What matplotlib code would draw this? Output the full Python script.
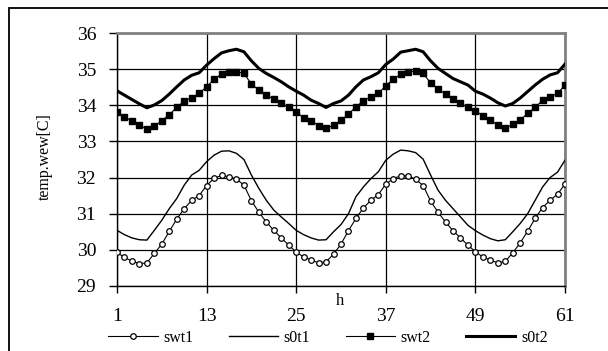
import matplotlib.pyplot as plt
from matplotlib.patches import Rectangle

plt.rcParams['font.family'] = ['Liberation Serif', 'DejaVu Serif']

# hour index
hours = list(range(1, 62))

swt1 = [29.93, 29.79, 29.69, 29.62, 29.64, 29.90, 30.16, 30.51, 30.85, 31.14,
        31.37, 31.50, 31.78, 31.98, 32.06, 32.02, 31.96, 31.79, 31.36, 31.04,
        30.77, 30.54, 30.33, 30.13, 29.94, 29.80, 29.72, 29.64, 29.67, 29.88,
        30.16, 30.53, 30.87, 31.16, 31.37, 31.53, 31.82, 31.97, 32.05, 32.05,
        31.95, 31.78, 31.35, 31.04, 30.77, 30.53, 30.33, 30.13, 29.95, 29.80,
        29.72, 29.64, 29.68, 29.92, 30.19, 30.52, 30.87, 31.17, 31.37, 31.54,
        31.82]
s0t1 = [30.54, 30.42, 30.33, 30.28, 30.27, 30.54, 30.82, 31.14, 31.42, 31.79,
        32.07, 32.20, 32.44, 32.62, 32.73, 32.74, 32.67, 32.50, 32.07, 31.70,
        31.37, 31.10, 30.91, 30.73, 30.54, 30.42, 30.33, 30.27, 30.28, 30.50,
        30.70, 31.00, 31.47, 31.74, 31.97, 32.16, 32.48, 32.65, 32.76, 32.74,
        32.69, 32.51, 32.07, 31.65, 31.37, 31.14, 30.91, 30.68, 30.53, 30.41,
        30.31, 30.25, 30.28, 30.50, 30.73, 31.00, 31.37, 31.74, 32.00, 32.15,
        32.48]
swt2 = [33.81, 33.67, 33.57, 33.45, 33.34, 33.43, 33.57, 33.74, 33.94, 34.12,
        34.21, 34.33, 34.51, 34.72, 34.86, 34.93, 34.93, 34.88, 34.59, 34.42,
        34.28, 34.17, 34.05, 33.94, 33.81, 33.66, 33.57, 33.44, 33.36, 33.45,
        33.58, 33.75, 33.96, 34.12, 34.24, 34.33, 34.54, 34.72, 34.86, 34.93,
        34.94, 34.88, 34.62, 34.45, 34.31, 34.17, 34.05, 33.94, 33.85, 33.71,
        33.59, 33.45, 33.36, 33.47, 33.59, 33.78, 33.94, 34.14, 34.24, 34.33,
        34.56]
s0t2 = [34.40, 34.28, 34.16, 34.04, 33.93, 34.01, 34.13, 34.31, 34.51, 34.70,
        34.83, 34.90, 35.11, 35.29, 35.45, 35.51, 35.55, 35.48, 35.23, 35.02,
        34.88, 34.77, 34.65, 34.51, 34.39, 34.28, 34.14, 34.05, 33.94, 34.05,
        34.12, 34.28, 34.51, 34.70, 34.79, 34.90, 35.13, 35.28, 35.47, 35.51,
        35.55, 35.48, 35.23, 35.02, 34.88, 34.74, 34.65, 34.56, 34.39, 34.31,
        34.20, 34.07, 33.98, 34.05, 34.20, 34.38, 34.56, 34.72, 34.84, 34.90,
        35.14]

x_ticks = [1, 13, 25, 37, 49, 61]
y_ticks = [29, 30, 31, 32, 33, 34, 35, 36]

fig = plt.figure(figsize=(6.08, 3.51), dpi=100)

# outer chart frame, running off the right and bottom edges
fig.patches.append(Rectangle((9 / 608, -0.05), 1.0, 1 - 7.5 / 351 + 0.05,
                             transform=fig.transFigure, fill=False,
                             edgecolor='black', linewidth=1.3))

ax = fig.add_axes([117 / 608, 1 - 286 / 351, 448 / 608, 253 / 351])

ax.plot(hours, swt1, color='black', linewidth=0.8, marker='o', markersize=4.0,
        markerfacecolor='white', markeredgecolor='black', markeredgewidth=0.9,
        label='swt1', zorder=4)
ax.plot(hours, s0t1, color='black', linewidth=1.0, label='s0t1', zorder=3)
ax.plot(hours, swt2, color='black', linewidth=0.8, marker='s', markersize=3.8,
        markerfacecolor='black', markeredgecolor='black',
        label='swt2', zorder=4)
ax.plot(hours, s0t2, color='black', linewidth=2.2, label='s0t2', zorder=3)

ax.set_xlim(1, 61)
ax.set_ylim(29, 36)
ax.set_xticks(x_ticks)
ax.set_yticks(y_ticks)
ax.grid(True, color='black', linewidth=0.9)
ax.set_axisbelow(True)

for side in ['top', 'right']:
    ax.spines[side].set_color('#808080')
    ax.spines[side].set_linewidth(2)
for side in ['left', 'bottom']:
    ax.spines[side].set_color('black')
    ax.spines[side].set_linewidth(1.0)

ax.tick_params(axis='y', direction='out', length=6, width=1, pad=9, labelsize=14)
ax.tick_params(axis='x', direction='out', length=5, width=1, pad=11, labelsize=14)

fig.text(45 / 608, 1 - 157 / 351, 'temp.wew[C]', rotation=90,
         ha='center', va='center', fontsize=11.5)
fig.text(340 / 608, 1 - 301 / 351, 'h', ha='center', va='center', fontsize=12)

fig.legend(loc='center', bbox_to_anchor=(328 / 608, 1 - 338 / 351), ncol=4,
           frameon=False, fontsize=11.5, handlelength=3.1, handletextpad=0.35,
           columnspacing=2.2, borderpad=0, borderaxespad=0)

fig.savefig('out.png', dpi=100)
